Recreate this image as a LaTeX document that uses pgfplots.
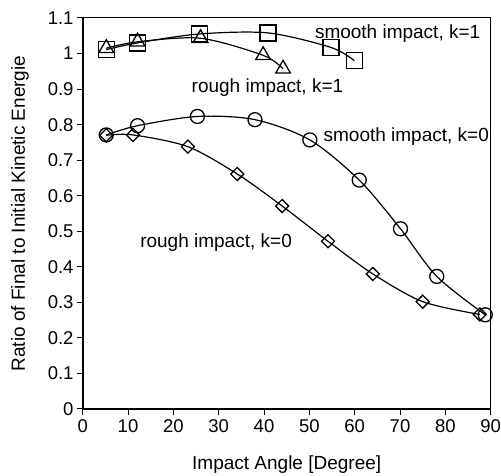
\documentclass[border=0pt]{standalone}
\usepackage{fontspec}
\setmainfont{Liberation Sans}
\usepackage{pgfplots}
\pgfplotsset{compat=1.18}

\newcommand{\lbl}{\fontsize{19bp}{22bp}\selectfont}
\newcommand{\tck}{\fontsize{18.5bp}{22bp}\selectfont}

\begin{document}
\begin{tikzpicture}
\begin{axis}[
    name=ax,
    scale only axis,
    width=408bp, height=391bp,
    xmin=0, xmax=90,
    ymin=0, ymax=1.1,
    xtick={0,10,...,90},
    ytick={0,0.1,...,1.1},
    yticklabels={0,0.1,0.2,0.3,0.4,0.5,0.6,0.7,0.8,0.9,1,1.1},
    xtick pos=bottom, ytick pos=left,
    tick align=outside,
    major tick length=6bp,
    tick style={black, line width=1bp},
    axis line style={line width=1bp},
    /pgf/number format/assume math mode=true,
    ticklabel style={font=\tck},
    xticklabel style={anchor=north, inner sep=0pt, yshift=-4bp},
    yticklabel style={anchor=east, inner sep=0pt, xshift=-3bp},
    xlabel={Impact Angle [Degree]},
    ylabel={Ratio of Final to Initial Kinetic Energie},
    every axis x label/.style={at={(axis description cs:0.5,-0.1535)}, anchor=base, font=\lbl},
    every axis y label/.style={at={(axis description cs:-0.154,0.5)}, anchor=center, rotate=90, font=\lbl},
    clip=false,
]
\draw[line width=1.8bp] (rel axis cs:0,1) -- (rel axis cs:0,0) -- (rel axis cs:1,0);

% smooth impact, k=1
\addplot[black, line width=1.2bp, smooth, mark=square, mark size=8bp,
    mark options={solid, line width=1.3bp}]
coordinates {(5.2,1.011) (12.1,1.030) (25.7,1.055) (40.9,1.058) (54.8,1.017) (59.9,0.980)};

% rough impact, k=1
\addplot[black, line width=1.2bp, smooth, mark=triangle, mark size=8.5bp,
    mark options={solid, line width=1.3bp}]
coordinates {(5.2,1.015) (12.1,1.033) (26,1.043) (39.8,0.995) (44.2,0.957)};

% smooth impact, k=0
\addplot[black, line width=1.2bp, smooth, mark=o, mark size=7bp,
    mark options={solid, line width=1.3bp}]
coordinates {(5.2,0.771) (12.1,0.797) (25.3,0.823) (38.0,0.814) (50.1,0.757) (61,0.644) (70.1,0.507) (78.1,0.373) (88.8,0.265)};

% rough impact, k=0
\addplot[black, line width=1.2bp, smooth, mark=square, mark size=4.6bp,
    mark options={solid, line width=1.3bp, rotate=45}]
coordinates {(5.2,0.770) (11.1,0.771) (23.2,0.738) (34.1,0.661) (44.0,0.571) (54.1,0.472) (64.0,0.380) (75,0.302) (87.6,0.266)};

\node[font=\lbl, anchor=base west, inner sep=0pt] at (axis cs:51.2,1.042) {smooth impact, k=1};
\node[font=\lbl, anchor=base west, inner sep=0pt] at (axis cs:24.0,0.890) {rough impact, k=1};
\node[font=\lbl, anchor=base west, inner sep=0pt] at (axis cs:53.1,0.752) {smooth impact, k=0};
\node[font=\lbl, anchor=base west, inner sep=0pt] at (axis cs:12.66,0.455) {rough impact, k=0};
\end{axis}
\pgfresetboundingbox
\path ([shift={(-82.7bp,-67bp)}]ax.south west) rectangle ([shift={(10.3bp,18bp)}]ax.north east);
\end{tikzpicture}
\end{document}
